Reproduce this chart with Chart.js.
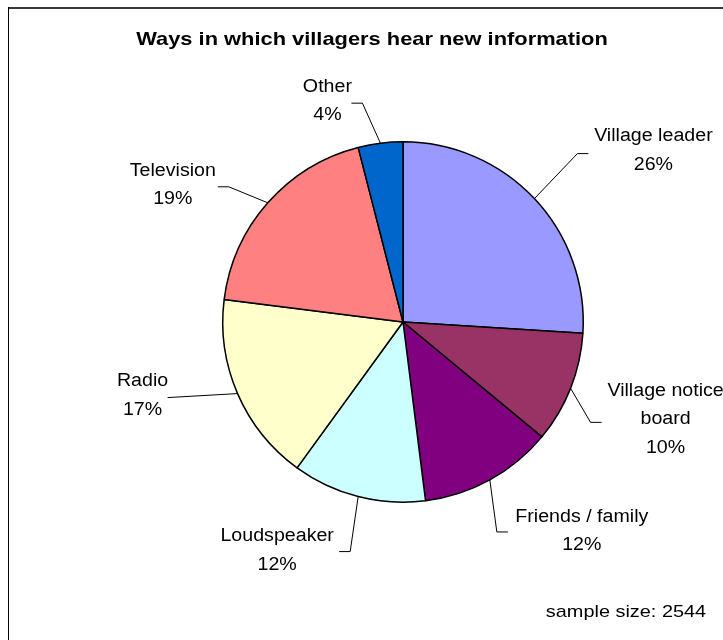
<!DOCTYPE html>
<html>
<head>
<meta charset="utf-8">
<script src="https://cdn.jsdelivr.net/npm/chart.js@4"></script>
<style>
  body { margin: 0; background: #fff; }
  #pie { display: block; }
</style>
</head>
<body>
<canvas id="pie" width="723" height="640"></canvas>
<script>
// data
const chartTitle = 'Ways in which villagers hear new information';
const categories = ['Village leader', 'Village notice board', 'Friends / family', 'Loudspeaker', 'Radio', 'Television', 'Other'];
const shares = [26, 10, 12, 12, 17, 19, 4];
const sliceColors = ['#9999FF', '#993366', '#800080', '#CCFFFF', '#FFFFCC', '#FF8080', '#0066CC'];
const sampleSize = 2544;

// label text lines (Excel wraps "Village notice board")
const labelLines = [['Village leader'], ['Village notice', 'board'], ['Friends / family'], ['Loudspeaker'], ['Radio'], ['Television'], ['Other']];

// callout layout relative to the slice's mid point on the rim: elbow (ex,ey), label centre (lx,ly)
const callouts = [
    { ex: 43, ey: -45, lx: 119, ly: -48 },
    { ex: 20, ey: 34, lx: 95, ly: 31 },
    { ex: 7, ey: 52, lx: 92, ly: 51 },
    { ex: -8, ey: 55, lx: -81, ly: 54 },
    { ex: -70, ey: 4, lx: -95, ly: 2 },
    { ex: -39, ey: -16, lx: -95, ly: -18 },
    { ex: -18, ey: -40, lx: -53, ly: -42 }
];

const FONT = '"Liberation Sans", Arial, sans-serif';

// Excel's text is a bit wider than Arial at the same height
function wideText(ctx, text, x, y, sx) {
    ctx.save();
    ctx.translate(x, y);
    ctx.scale(sx, 1);
    ctx.fillText(text, 0, 0);
    ctx.restore();
}

const calloutPlugin = {
    id: 'callouts',
    beforeDraw(chart) {
        const ctx = chart.ctx;
        ctx.save();
        // frame
        ctx.fillStyle = '#3a3a3a';
        ctx.fillRect(8, 7, 715, 2);
        ctx.fillStyle = '#000';
        ctx.fillRect(8, 7, 1, 633);
        ctx.restore();
    },
    afterDraw(chart) {
        const ctx = chart.ctx;
        const arcs = chart.getDatasetMeta(0).data;
        const total = shares.reduce((a, b) => a + b, 0);
        ctx.save();
        ctx.fillStyle = '#000';
        ctx.textAlign = 'center';
        ctx.textBaseline = 'middle';
        ctx.font = 'bold 19px ' + FONT;
        wideText(ctx, chartTitle, 372, 40, 1.15);

        ctx.font = '18px ' + FONT;
        arcs.forEach((arc, i) => {
            const p = arc.getProps(['x', 'y', 'startAngle', 'endAngle', 'outerRadius'], true);
            const mid = (p.startAngle + p.endAngle) / 2;
            const mx = p.x + Math.cos(mid) * p.outerRadius;
            const my = p.y + Math.sin(mid) * p.outerRadius;
            const c = callouts[i];
            const ex = mx + c.ex, ey = my + c.ey;
            const dir = c.lx > 0 ? 1 : -1;
            ctx.strokeStyle = '#000';
            ctx.lineWidth = 1;
            ctx.beginPath();
            ctx.moveTo(mx, my);
            ctx.lineTo(ex, ey);
            if (i !== 4) ctx.lineTo(ex + dir * 11, ey);
            ctx.stroke();

            const lines = labelLines[i].concat([Math.round(shares[i] / total * 100) + '%']);
            const lh = 28.5;
            const top = my + c.ly - (lines.length - 1) * lh / 2;
            lines.forEach((t, k) => wideText(ctx, t, mx + c.lx, top + k * lh, 1.09));
        });

        ctx.font = '17px ' + FONT;
        wideText(ctx, 'sample size: ' + sampleSize, 626, 612, 1.17);
        ctx.restore();
    }
};

new Chart(document.getElementById('pie'), {
    type: 'pie',
    data: {
        labels: categories,
        datasets: [{
            data: shares,
            backgroundColor: sliceColors,
            borderColor: '#000',
            borderWidth: 1.5,
            hoverOffset: 0
        }]
    },
    options: {
        responsive: false,
        animation: false,
        events: [],
        layout: { padding: { left: 222, right: 139, top: 141, bottom: 137 } },
        plugins: {
            legend: { display: false },
            title: { display: false },
            tooltip: { enabled: false }
        }
    },
    plugins: [calloutPlugin]
});
</script>
</body>
</html>
